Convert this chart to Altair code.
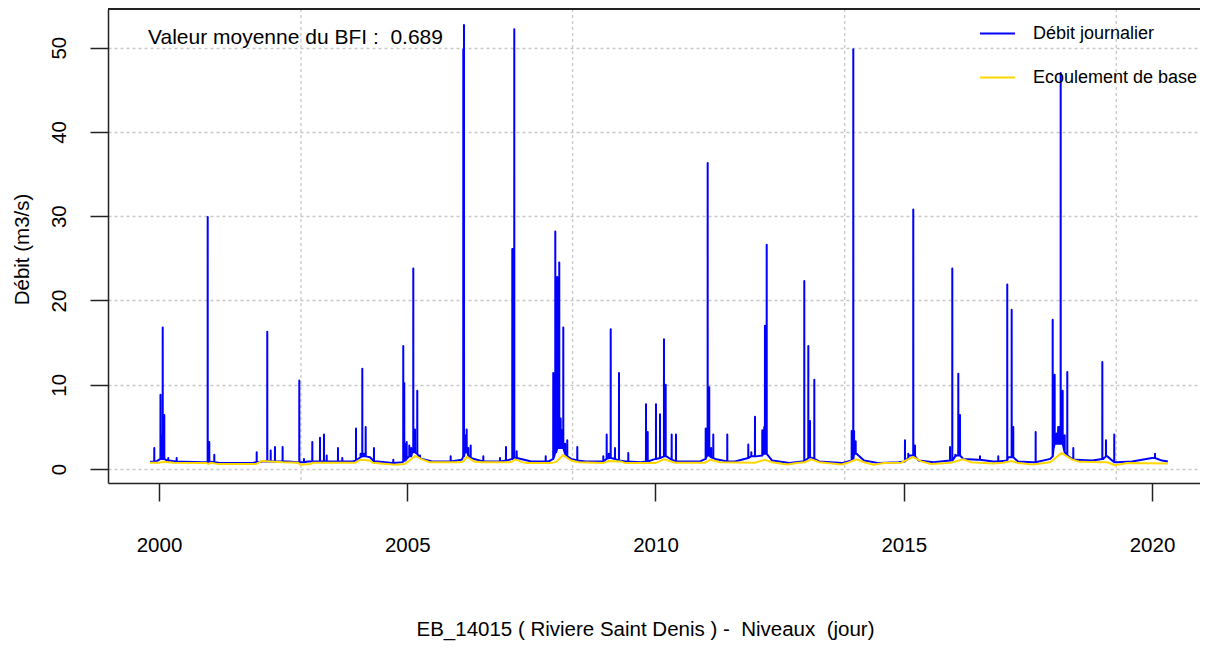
import altair as alt
import pandas as pd

# ---------------- data ----------------
# low-flow points of the daily discharge (decimal year, m3/s)
low_dates = [1999.82, 1999.95, 2000.20, 2000.50, 2000.90, 2001.20, 2001.50, 2001.90, 2002.10, 2002.60,
             2002.80, 2003.00, 2003.50, 2003.90, 2004.10, 2004.25, 2004.40, 2004.70, 2004.90, 2005.10,
             2005.30, 2005.50, 2005.80, 2006.10, 2006.21, 2006.40, 2006.70, 2007.00, 2007.21, 2007.50,
             2007.85, 2008.10, 2008.30, 2008.60, 2008.90, 2009.10, 2009.40, 2009.70, 2010.00, 2010.22,
             2010.50, 2010.90, 2011.06, 2011.20, 2011.60, 2011.90, 2012.02, 2012.22, 2012.35, 2012.70,
             2012.95, 2013.10, 2013.30, 2013.75, 2013.96, 2014.05, 2014.20, 2014.50, 2014.90, 2015.10,
             2015.30, 2015.60, 2015.95, 2016.06, 2016.20, 2016.50, 2016.80, 2017.10, 2017.30, 2017.60,
             2017.95, 2018.09, 2018.30, 2018.45, 2018.80, 2019.02, 2019.10, 2019.30, 2019.60, 2019.80,
             2020.00, 2020.20, 2020.32]
low_values = [0.85, 0.9, 1.0, 0.85, 0.8, 0.75, 0.7, 0.75, 0.9, 0.9,
              0.8, 0.9, 0.9, 0.9, 1.5, 1.4, 0.9, 0.7, 0.8, 2.0,
              1.2, 0.9, 0.9, 1.1, 2.0, 1.1, 0.9, 1.0, 1.3, 0.9,
              0.9, 2.5, 1.2, 0.9, 0.9, 1.3, 0.9, 0.8, 1.2, 1.5,
              0.9, 0.9, 1.6, 1.2, 0.9, 1.4, 1.5, 1.8, 1.0, 0.7,
              0.9, 1.4, 0.9, 0.7, 1.0, 1.8, 1.0, 0.7, 0.8, 1.6,
              1.0, 0.8, 1.0, 1.6, 1.2, 1.1, 0.9, 1.4, 0.9, 0.8,
              1.2, 3.0, 1.6, 1.1, 1.0, 1.2, 1.5, 0.8, 0.9, 1.1,
              1.3, 1.0, 0.9]

# daily peaks: date, peak value, flow level around the peak
peak_dates = [1999.905, 2000.030, 2000.040, 2000.055, 2000.075, 2000.090, 2000.107, 2000.187, 2000.356, 2000.981,
              2001.013, 2001.114, 2001.968, 2002.181, 2002.250, 2002.336, 2002.490, 2002.826, 2002.920, 2003.088,
              2003.243, 2003.323, 2003.378, 2003.605, 2003.692, 2003.968, 2004.060, 2004.095, 2004.130, 2004.163,
              2004.330, 2004.719, 2004.920, 2004.940, 2004.960, 2004.989, 2005.041, 2005.080, 2005.122, 2005.156,
              2005.202, 2005.257, 2005.875, 2006.129, 2006.143, 2006.160, 2006.197, 2006.230, 2006.278, 2006.532,
              2006.868, 2006.989, 2007.116, 2007.130, 2007.156, 2007.204, 2007.789, 2007.941, 2007.960, 2007.982,
              2008.000, 2008.022, 2008.040, 2008.062, 2008.090, 2008.111, 2008.143, 2008.180, 2008.223, 2008.425,
              2008.949, 2009.017, 2009.060, 2009.098, 2009.184, 2009.265, 2009.452, 2009.809, 2009.843, 2010.010,
              2010.091, 2010.171, 2010.190, 2010.205, 2010.326, 2010.413, 2011.011, 2011.030, 2011.051, 2011.083,
              2011.120, 2011.164, 2011.446, 2011.869, 2011.930, 2012.004, 2012.151, 2012.170, 2012.190, 2012.205,
              2012.240, 2012.997, 2013.078, 2013.112, 2013.199, 2013.952, 2013.984, 2014.000, 2014.032, 2015.025,
              2015.091, 2015.192, 2015.227, 2015.932, 2015.978, 2016.038, 2016.099, 2016.133, 2016.536, 2016.904,
              2017.085, 2017.174, 2017.206, 2017.657, 2018.000, 2018.020, 2018.040, 2018.081, 2018.110, 2018.133,
              2018.161, 2018.201, 2018.242, 2018.294, 2018.415, 2019.000, 2019.073, 2019.240, 2020.060]
peak_values = [2.5, 8.8, 4.0, 3.0, 16.8, 6.4, 6.4, 1.3, 1.3, 29.9,
               3.2, 1.7, 2.0, 16.3, 2.2, 2.6, 2.6, 10.5, 1.2, 3.2,
               3.7, 4.1, 1.6, 2.5, 1.3, 4.8, 1.8, 11.9, 1.8, 5.0,
               2.5, 1.1, 14.6, 10.2, 3.0, 3.2, 2.8, 2.5, 23.8, 4.7,
               9.3, 1.6, 1.5, 49.8, 52.7, 4.0, 4.7, 2.5, 2.8, 1.5,
               1.3, 2.6, 26.1, 26.1, 52.2, 2.1, 1.5, 11.4, 8.0, 28.2,
               7.0, 22.8, 5.0, 24.5, 6.0, 4.6, 16.8, 3.0, 3.4, 2.6,
               1.5, 4.1, 1.8, 16.6, 2.5, 11.4, 1.9, 7.7, 4.4, 7.7,
               6.5, 15.4, 10.0, 10.0, 4.1, 4.1, 4.8, 4.8, 36.3, 9.7,
               2.5, 4.1, 4.1, 2.9, 2.0, 6.2, 4.6, 4.6, 5.0, 17.0,
               26.6, 22.3, 14.6, 5.7, 10.6, 4.5, 49.8, 4.5, 3.3, 3.4,
               1.8, 30.8, 2.8, 2.6, 23.8, 1.7, 11.3, 6.4, 1.5, 1.5,
               21.9, 18.9, 5.0, 4.4, 17.7, 8.0, 11.2, 4.2, 5.0, 5.0,
               47.0, 9.3, 4.0, 11.5, 2.5, 12.7, 3.4, 4.1, 1.8]
peak_bases = [0.9, 1.2, 1.2, 1.2, 1.2, 1.2, 1.2, 0.9, 0.85, 0.8,
              0.9, 0.8, 0.8, 0.9, 0.9, 0.9, 0.9, 0.8, 0.8, 0.9,
              0.9, 0.9, 0.9, 0.9, 0.9, 1.0, 1.4, 1.5, 1.5, 1.5,
              0.9, 0.7, 0.9, 1.0, 1.0, 1.2, 1.5, 1.5, 2.0, 2.0,
              1.8, 1.3, 0.9, 1.5, 1.5, 2.0, 2.0, 1.6, 1.3, 0.9,
              0.9, 1.0, 1.2, 1.2, 1.3, 1.3, 0.9, 1.2, 1.5, 2.0,
              2.0, 2.5, 2.5, 2.5, 2.5, 2.5, 2.5, 1.8, 1.5, 1.0,
              0.9, 1.2, 1.3, 1.3, 1.2, 1.0, 0.9, 0.9, 0.9, 1.2,
              1.3, 1.5, 1.5, 1.5, 1.1, 0.9, 1.2, 1.5, 1.6, 1.6,
              1.4, 1.3, 0.9, 1.3, 1.5, 1.5, 1.6, 1.8, 1.8, 1.8,
              1.8, 0.9, 1.3, 1.4, 1.2, 1.0, 1.2, 1.8, 1.8, 0.9,
              1.3, 1.6, 1.5, 1.0, 1.0, 1.5, 1.6, 1.6, 1.1, 0.9,
              1.0, 1.4, 1.4, 0.8, 1.5, 2.5, 3.0, 3.0, 3.0, 3.0,
              3.0, 3.0, 2.0, 1.6, 1.1, 1.2, 1.5, 0.8, 1.3]

# base flow (yellow)
base_dates = [1999.82, 2000.00, 2000.10, 2000.30, 2000.95, 2001.00, 2001.05, 2001.20, 2001.95, 2002.07,
              2002.50, 2002.80, 2002.85, 2003.05, 2003.10, 2003.95, 2004.05, 2004.25, 2004.30, 2004.75,
              2004.95, 2005.02, 2005.16, 2005.30, 2005.45, 2006.05, 2006.13, 2006.20, 2006.35, 2006.50,
              2007.05, 2007.12, 2007.17, 2007.30, 2007.40, 2007.90, 2008.00, 2008.14, 2008.30, 2008.45,
              2008.95, 2009.05, 2009.30, 2009.40, 2010.00, 2010.17, 2010.40, 2011.00, 2011.10, 2011.30,
              2012.00, 2012.20, 2012.35, 2012.65, 2012.85, 2013.00, 2013.14, 2013.30, 2013.75, 2013.90,
              2014.05, 2014.20, 2014.40, 2014.60, 2014.95, 2015.19, 2015.35, 2015.55, 2015.95, 2016.20,
              2016.35, 2016.80, 2017.00, 2017.17, 2017.30, 2017.60, 2017.95, 2018.18, 2018.40, 2018.55,
              2019.00, 2019.10, 2019.25, 2019.50, 2020.32]
base_values = [0.75, 0.75, 0.85, 0.75, 0.7, 0.6, 0.75, 0.58, 0.58, 0.95,
               0.8, 0.75, 0.5, 0.6, 0.75, 0.75, 1.1, 1.0, 0.75, 0.5,
               0.6, 0.9, 1.55, 1.15, 0.8, 0.8, 0.9, 1.45, 0.9, 0.8,
               0.8, 0.9, 1.15, 0.85, 0.7, 0.7, 0.85, 1.65, 1.0, 0.8,
               0.7, 0.95, 0.9, 0.7, 0.7, 1.15, 0.75, 0.75, 1.1, 0.8,
               0.75, 1.1, 0.8, 0.55, 0.7, 0.8, 1.15, 0.8, 0.55, 0.8,
               1.15, 0.8, 0.5, 0.7, 0.75, 1.45, 0.9, 0.6, 0.75, 1.15,
               0.8, 0.65, 0.75, 0.95, 0.7, 0.55, 0.8, 1.9, 1.1, 0.85,
               0.8, 0.8, 0.45, 0.7, 0.65]

series_names = ["Débit journalier", "Ecoulement de base"]
series_colors = ["#0000FF", "#FFD700"]
year_ticks = [2000, 2005, 2010, 2015, 2020]
flow_ticks = [0, 10, 20, 30, 40, 50]
grid_years = [2002.86, 2008.33, 2013.81, 2019.28]   # R day numbers 12000..18000
NB = "\u00a0"  # keeps the doubled spaces of the original texts
bfi_text = "Valeur moyenne du BFI :" + NB + " 0.689"
x_title = "EB_14015 ( Riviere Saint Denis ) -" + NB + " Niveaux" + NB + " (jour)"
y_title = "Débit (m3/s)"

# ---------------- tables ----------------
half_day = 0.0012
rows = [{"t": d, "q": v} for d, v in zip(low_dates, low_values)]
for d, p, b in zip(peak_dates, peak_values, peak_bases):
    rows += [{"t": d - half_day, "q": b}, {"t": d, "q": p}, {"t": d + half_day, "q": b}]
debit = pd.DataFrame(rows).sort_values("t").reset_index(drop=True)
debit["serie"] = series_names[0]
base = pd.DataFrame({"t": base_dates, "q": base_values, "serie": series_names[1]})
grid_df = pd.DataFrame({"g": grid_years})

W, H = 1092, 474
FONT = "Liberation Sans"

xscale = alt.Scale(domain=[1998.973, 2020.967], nice=False, zero=False)
yscale = alt.Scale(domain=[-1.66, 54.59], nice=False, zero=False)
cscale = alt.Scale(domain=series_names, range=series_colors)

xaxis = alt.Axis(values=year_ticks, format="d", grid=False, tickSize=18, labelPadding=50,
                 labelBaseline="alphabetic", labelFontSize=20.5, labelFont=FONT, labelColor="#000",
                 title=x_title, titleFont=FONT, titleFontSize=20.5, titleFontWeight="normal",
                 titleColor="#000", titleX=537, titleY=152, titleAlign="center",
                 titleBaseline="alphabetic", labelFlush=False)
yaxis = alt.Axis(values=flow_ticks, grid=True, gridDash=[3, 3], gridColor="#c8c8c8", gridWidth=1.3,
                 tickSize=18, labelAngle=270, labelAlign="center", labelBaseline="alphabetic",
                 labelPadding=25, labelFontSize=20.5, labelFont=FONT, labelColor="#000",
                 title=y_title, titleFont=FONT, titleFontSize=20.5, titleFontWeight="normal",
                 titleColor="#000", titleAngle=270, titleX=-85.5, titleY=240, titleAlign="center",
                 titleBaseline="middle", labelFlush=False)

legend = alt.Legend(orient="none", legendX=871, legendY=6, title=None, symbolType="stroke",
                    symbolSize=1225, symbolStrokeWidth=2, labelFontSize=18, labelFont=FONT,
                    labelColor="#000", labelOffset=17, rowPadding=16, padding=0, labelLimit=0)

grid_v = alt.Chart(grid_df).mark_rule(strokeDash=[3, 3], color="#c8c8c8", strokeWidth=1.3).encode(
    x=alt.X("g:Q", scale=xscale, axis=xaxis)
)

blue = alt.Chart(debit).mark_line(strokeWidth=2, strokeJoin="round", clip=True).encode(
    x=alt.X("t:Q", scale=xscale, axis=xaxis),
    y=alt.Y("q:Q", scale=yscale, axis=yaxis),
    color=alt.Color("serie:N", scale=cscale, legend=legend),
    order="t:Q",
)

yellow = alt.Chart(base).mark_line(strokeWidth=2, clip=True).encode(
    x=alt.X("t:Q", scale=xscale),
    y=alt.Y("q:Q", scale=yscale),
    color=alt.Color("serie:N", scale=cscale, legend=legend),
    order="t:Q",
)

top_border = alt.Chart(grid_df).mark_rule(color="#222", strokeWidth=1.5).encode(
    x=alt.value(0), x2=alt.value(W), y=alt.value(0)
)

note = alt.Chart(pd.DataFrame({"txt": [bfi_text]})).mark_text(
    align="left", baseline="alphabetic", fontSize=21, font=FONT, color="#000"
).encode(x=alt.value(40), y=alt.value(35), text="txt:N")

chart = alt.layer(grid_v, blue, yellow, top_border, note).properties(
    width=W, height=H,
    autosize=alt.AutoSizeParams(type="none"),
    padding={"left": 100, "top": 1, "right": 0, "bottom": 159},
).configure_view(strokeWidth=0).configure_axis(
    domainColor="#222", domainWidth=1.5, tickColor="#222", tickWidth=1.5
)

chart.save("out.html", embed_options={"renderer": "svg", "actions": False})
